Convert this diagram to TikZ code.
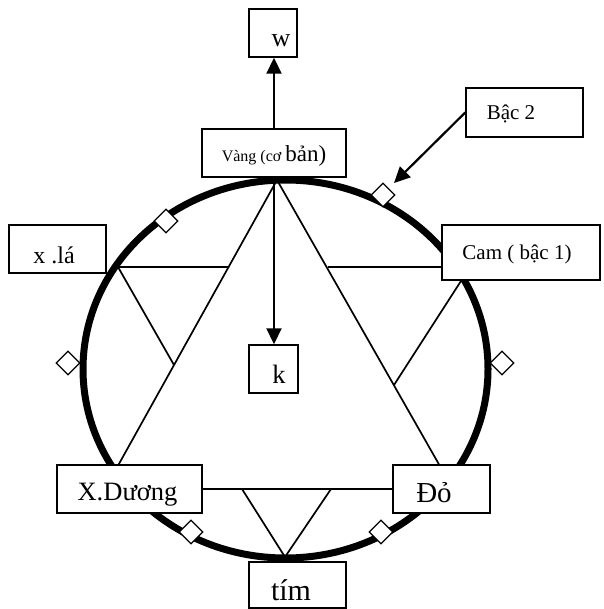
\documentclass[tikz,border=0pt]{standalone}
\usepackage{fontspec}
\setmainfont{Liberation Serif}
\usetikzlibrary{arrows.meta}
\begin{document}
\begin{tikzpicture}[x=1pt,y=-1pt,
  box/.style={draw, fill=white, line width=1.5pt, inner sep=0pt, text depth=0pt},
  thinline/.style={line width=1.7pt},
  arr/.style={line width=2.2pt, -{Triangle[length=16pt,width=15pt]}},
  knot/.style={draw, fill=white, line width=1.2pt, minimum size=16.5pt, inner sep=0pt, rotate=45},
]
\useasboundingbox (0,0) rectangle (603,609);
% ring
\draw[line width=7pt] (285.5,369) ellipse [x radius=202.5, y radius=189];
% big triangle
\coordinate (A) at (277,180);
\coordinate (B) at (105,489);
\coordinate (C) at (453,489);
\draw[thinline] (B) -- (A) -- (C) -- cycle;
% star points of the inverted triangle
\coordinate (D) at (118,267);
\coordinate (Dl) at (229,267);
\coordinate (Dd) at (174,365);
\draw[thinline] (Dl) -- (D) -- (Dd);
\coordinate (Er) at (328,267);
\coordinate (E) at (470,267);
\coordinate (Ed) at (394,385);
\draw[thinline] (Er) -- (E) -- (Ed);
\coordinate (Fl) at (242,489);
\coordinate (F) at (285,557);
\coordinate (Fr) at (331,489);
\draw[thinline] (Fl) -- (F) -- (Fr);
% boxes
\node[box, minimum width=48pt, minimum height=48pt, text height=28pt, font=\fontsize{26}{28}\selectfont] (w) at (273,33) {\hspace*{16pt}w};
\node[box, minimum width=144pt, minimum height=48pt, text height=18pt] (vang) at (274,153) {{\fontsize{16}{18}\selectfont Vàng (cơ }{\fontsize{23}{25}\selectfont bản)}};
\node[box, minimum width=49pt, minimum height=48pt, text height=28pt, font=\fontsize{26.5}{28}\selectfont] (k) at (273.5,369) {\hspace*{11pt}k};
\node[box, minimum width=117pt, minimum height=49pt, text height=15pt, font=\fontsize{21}{23}\selectfont] (bac) at (524.5,112.5) {\hspace*{-27pt}Bậc 2};
\node[box, minimum width=158pt, minimum height=55pt, text height=13pt, font=\fontsize{21}{23}\selectfont] (cam) at (521,252.5) {\hspace*{-8pt}Cam ( bậc 1)};
\node[box, minimum width=97pt, minimum height=48pt, text height=28pt, font=\fontsize{24}{26}\selectfont] (xla) at (57.5,249) {\hspace*{-7pt}x .lá};
\node[box, minimum width=145pt, minimum height=48pt, text height=22pt, font=\fontsize{26.5}{28}\selectfont] (xd) at (129.5,489) {\hspace*{-4pt}X.Dương};
\node[box, minimum width=97pt, minimum height=48pt, text height=26pt, font=\fontsize{29}{31}\selectfont] (do) at (441.5,489) {\hspace*{-15pt}Đỏ};
\node[box, minimum width=97pt, minimum height=46pt, text height=30pt, font=\fontsize{30}{32}\selectfont] (tim) at (297.5,585) {\hspace*{-13pt}tím};
% small diamonds on the ring
\node[knot] (d1) at (383,195) {};
\node[knot] (d2) at (166,221) {};
\node[knot] (d3) at (68,363) {};
\node[knot] (d4) at (502,363) {};
\node[knot] (d5) at (191,532) {};
\node[knot] (d6) at (381,532) {};
% arrows
\draw[arr] (vang.north) -- (vang.north |- w.south);
\draw[arr] (vang.south) -- (vang.south |- k.north);
\coordinate (tip) at (394,183);
\draw[arr] (bac.west) -- (tip);
\end{tikzpicture}
\end{document}
